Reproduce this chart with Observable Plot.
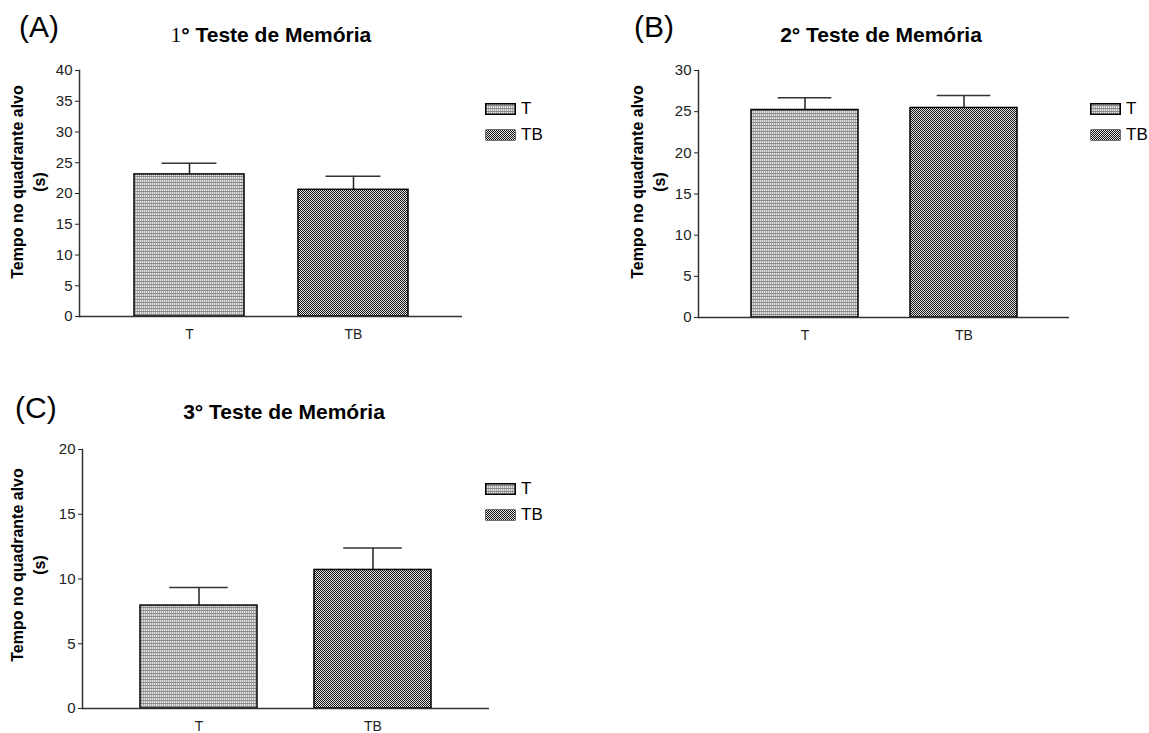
<!DOCTYPE html>
<html>
<head>
<meta charset="utf-8">
<script src="https://cdn.jsdelivr.net/npm/d3@7"></script>
<script src="https://cdn.jsdelivr.net/npm/@observablehq/plot@0.6"></script>
<style>
  body { margin: 0; background: #fff; font-family: "Liberation Sans", Arial, sans-serif; }
  #root { position: relative; width: 1149px; height: 733px; overflow: hidden; }
  .abs { position: absolute; }
  .plabel { font-size: 30px; color: #000; transform: translate(0, -50%); }
  .title { font-size: 21px; font-weight: bold; color: #000; transform: translate(-50%, -50%); white-space: nowrap; }
  .ylab { font-size: 16px; font-weight: bold; color: #000; line-height: 22px; text-align: center; white-space: pre; transform: translate(-50%, -50%) rotate(-90deg); }
  .leg { font-size: 17px; color: #000; display: flex; align-items: center; height: 14px; }
  .leg svg { margin-right: 5px; }
  #root svg g[aria-label="y-axis tick label"] { font-size: 15px; }
  #root svg g[aria-label="x-axis tick label"] { font-size: 14px; }
</style>
</head>
<body>
<svg width="0" height="0" style="position:absolute">
  <defs>
    <pattern id="patT" width="2" height="3" patternUnits="userSpaceOnUse">
      <rect width="2" height="3" fill="#e4e4e4"/>
      <rect x="1" width="1" height="3" fill="#aaaaaa"/>
      <rect y="2" width="2" height="1" fill="#8a8a8a"/>
    </pattern>
    <pattern id="patTB" width="2" height="2" patternUnits="userSpaceOnUse">
      <rect width="2" height="2" fill="#e6e6e6"/>
      <rect x="0" y="0" width="1" height="1" fill="#111"/>
      <rect x="1" y="1" width="1" height="1" fill="#111"/>
    </pattern>
  </defs>
</svg>
<div id="root"></div>
<script>
// ---- Data ----
const groups = ["T", "TB"];
const meansA = [23.1, 20.6];
const semA = [1.8, 2.2];
const meansB = [25.2, 25.45];
const semB = [1.5, 1.5];
const meansC = [7.95, 10.7];
const semC = [1.4, 1.7];
const ticksA = [0, 5, 10, 15, 20, 25, 30, 35, 40];
const ticksB = [0, 5, 10, 15, 20, 25, 30];
const ticksC = [0, 5, 10, 15, 20];
const titles = ["1° Teste de Memória", "2° Teste de Memória", "3° Teste de Memória"];
const panelLabels = ["(A)", "(B)", "(C)"];
const yLabel = "Tempo no quadrante alvo\n(s)";
const fills = {T: "url(#patT)", TB: "url(#patTB)"};

const root = document.getElementById("root");

function addDiv(cls, text, left, top, html) {
  const d = document.createElement("div");
  d.className = "abs " + cls;
  if (html) d.innerHTML = text; else d.textContent = text;
  d.style.left = left + "px";
  d.style.top = top + "px";
  root.appendChild(d);
  return d;
}

function panel(cfg) {
  const data = groups.map((g, i) => ({group: g, mean: cfg.means[i], top: cfg.means[i] + cfg.sem[i]}));
  const innerW = cfg.width - cfg.ml - cfg.mr;
  const step = innerW / (2 - 0.33 + 2 * 0.33);
  const bw = step * 0.67;
  const chart = Plot.plot({
    width: cfg.width,
    height: cfg.height,
    marginLeft: cfg.ml,
    marginRight: cfg.mr,
    marginTop: cfg.mt,
    marginBottom: cfg.mb,
    style: {fontFamily: "'Liberation Sans', Arial, sans-serif", color: "#222", background: "transparent", overflow: "visible"},
    x: {domain: groups, padding: 0.33, align: 0.5, label: null},
    y: {domain: [0, cfg.max], label: null},
    marks: [
      Plot.axisY({ticks: cfg.ticks, tickSize: 4, tickPadding: 3, fontSize: 15, label: null}),
      Plot.frame({anchor: "left", stroke: "#333", strokeWidth: 1.5}),
      Plot.axisX({tickSize: 0, tickPadding: 13, fontSize: 14, label: null}),
      Plot.ruleX(data, {x: "group", y1: "mean", y2: "top", stroke: "#222", strokeWidth: 1.5}),
      Plot.tickY(data, {x: "group", y: "top", stroke: "#333", strokeWidth: 1.5, insetLeft: bw / 4, insetRight: bw / 4}),
      Plot.barY(data.filter(d => d.group === "T"), {x: "group", y: "mean", fill: fills.T, stroke: "#000", strokeWidth: 1.5}),
      Plot.barY(data.filter(d => d.group === "TB"), {x: "group", y: "mean", fill: fills.TB, stroke: "#000", strokeWidth: 1.5}),
      Plot.ruleY([0], {stroke: "#333", strokeWidth: 1.5})
    ]
  });
  chart.style.position = "absolute";
  chart.style.left = cfg.left + "px";
  chart.style.top = cfg.top + "px";
  root.appendChild(chart);
}

panel({means: meansA, sem: semA, max: 40, ticks: ticksA, left: 0, top: 0, width: 470, height: 360, ml: 79, mr: 8, mt: 70, mb: 44});
panel({means: meansB, sem: semB, max: 30, ticks: ticksB, left: 620, top: 0, width: 460, height: 360, ml: 78, mr: 11, mt: 70, mb: 43});
panel({means: meansC, sem: semC, max: 20, ticks: ticksC, left: 0, top: 380, width: 500, height: 353, ml: 82, mr: 11, mt: 69, mb: 25});

// Panel letters
addDiv("plabel", panelLabels[0], 19, 27);
addDiv("plabel", panelLabels[1], 634, 27);
addDiv("plabel", panelLabels[2], 15, 408);

// Titles
addDiv("title", '<span style="font-family:\'Liberation Serif\',serif;font-weight:normal">1</span>' + titles[0].slice(1), 271, 35, true);
addDiv("title", titles[1], 881, 35);
addDiv("title", titles[2], 284, 412);

// Y labels
addDiv("ylab", yLabel, 29, 182);
addDiv("ylab", yLabel, 649, 182);
addDiv("ylab", yLabel, 29, 565);

// Legends
function legend(x, y) {
  groups.forEach((g, i) => {
    const d = document.createElement("div");
    d.className = "abs leg";
    d.style.left = x + "px";
    d.style.top = (y + i * 26) + "px";
    d.innerHTML = `<svg width="31" height="12"><rect x="0.75" y="0.75" width="29.5" height="10.5" fill="${fills[g]}" stroke="#000" stroke-width="${g === "T" ? 1.5 : 0.5}"/></svg><span>${g}</span>`;
    root.appendChild(d);
  });
}
legend(485, 102);
legend(1090, 102);
legend(485, 482);
</script>
</body>
</html>
